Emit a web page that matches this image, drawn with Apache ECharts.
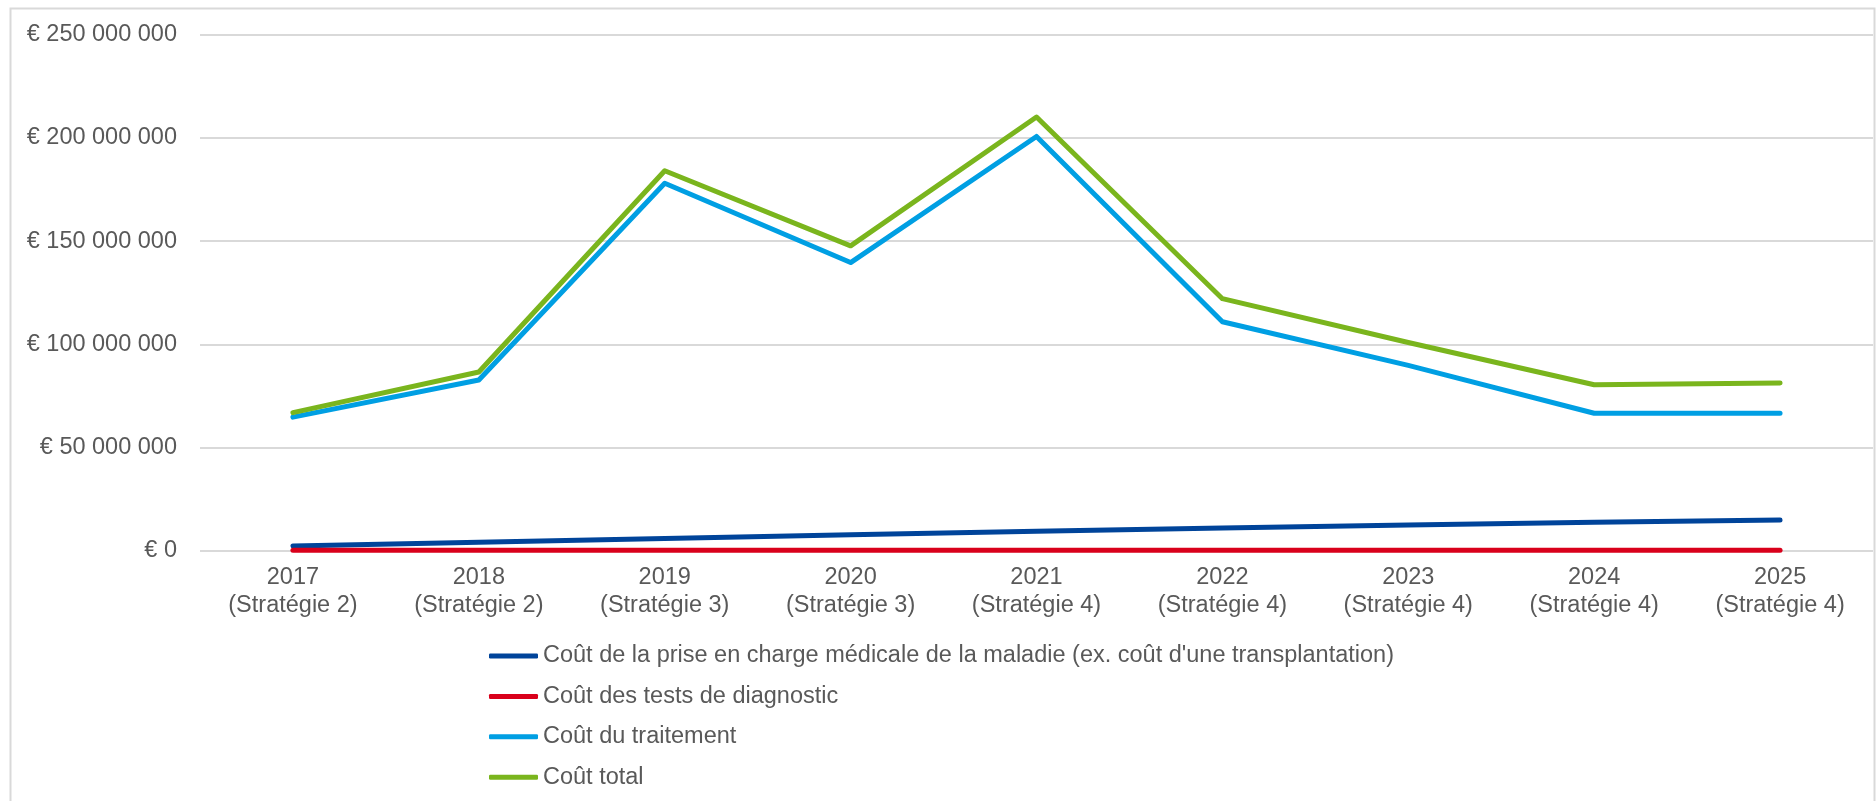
<!DOCTYPE html>
<html>
<head>
<meta charset="utf-8">
<script src="https://cdn.jsdelivr.net/npm/echarts@6/dist/echarts.min.js"></script>
<style>
html,body{margin:0;padding:0;background:#fff;}
#chart{width:1876px;height:801px;}
</style>
</head>
<body>
<div id="chart"></div>
<script>
const years = ['2017','2018','2019','2020','2021','2022','2023','2024','2025'];
const strategies = ['Stratégie 2','Stratégie 2','Stratégie 3','Stratégie 3','Stratégie 4','Stratégie 4','Stratégie 4','Stratégie 4','Stratégie 4'];
const seriesNames = [
  "Coût de la prise en charge médicale de la maladie (ex. coût d'une transplantation)",
  "Coût des tests de diagnostic",
  "Coût du traitement",
  "Coût total"
];
const priseEnCharge = [2300000, 4100000, 5900000, 7700000, 9400000, 11000000, 12500000, 13800000, 14900000];
const tests = [200000, 200000, 200000, 200000, 200000, 200000, 200000, 200000, 200000];
const traitement = [64700000, 82700000, 178000000, 139600000, 200700000, 110900000, 89800000, 66600000, 66600000];
const total = [66900000, 86600000, 184100000, 147700000, 210100000, 122100000, 100900000, 80400000, 81300000];
const colors = ['#00449A', '#D9001B', '#009FE3', '#7AB51D'];

const categories = years.map((y, i) => y + '\n(' + strategies[i] + ')');
const dataSets = [priseEnCharge, tests, traitement, total];

const font = 'Liberation Sans, Arial, sans-serif';
const textColor = '#595959';

const chart = echarts.init(document.getElementById('chart'), null, {renderer: 'canvas'});
chart.setOption({
  animation: false,
  backgroundColor: '#fff',
  graphic: [{
    type: 'rect',
    shape: {x: 10.5, y: 8.5, width: 1864, height: 820},
    style: {fill: 'none', stroke: '#d9d9d9', lineWidth: 2},
    silent: true
  }],
  grid: {left: 200, right: 3, top: 34.7, bottom: 250.3, containLabel: false},
  xAxis: {
    type: 'category',
    data: categories,
    boundaryGap: true,
    axisLine: {show: false},
    axisTick: {show: false},
    axisLabel: {
      color: textColor,
      fontFamily: font,
      fontSize: 23.5,
      lineHeight: 28,
      margin: 13,
      interval: 0
    },
    splitLine: {show: false}
  },
  yAxis: {
    type: 'value',
    min: 0,
    max: 250000000,
    interval: 50000000,
    axisLine: {show: false},
    axisTick: {show: false},
    axisLabel: {
      color: textColor,
      fontFamily: font,
      fontSize: 23.5,
      margin: 23,
      formatter: function (v) {
        return '€ ' + String(v).replace(/\B(?=(\d{3})+(?!\d))/g, ' ');
      }
    },
    splitLine: {lineStyle: {color: '#d9d9d9', width: 2}}
  },
  legend: {
    orient: 'vertical',
    left: 484,
    top: 637,
    icon: 'roundRect',
    itemWidth: 49,
    itemHeight: 5,
    itemGap: 12.4,
    textStyle: {color: textColor, fontFamily: font, fontSize: 23.5, lineHeight: 28},
    data: seriesNames
  },
  series: dataSets.map((d, i) => ({
    name: seriesNames[i],
    type: 'line',
    data: d,
    symbol: 'none',
    showSymbol: false,
    smooth: false,
    color: colors[i],
    itemStyle: {color: colors[i]},
    lineStyle: {color: colors[i], width: 5, cap: 'round', join: 'round'},
    z: 2 + i
  }))
});
</script>
</body>
</html>
